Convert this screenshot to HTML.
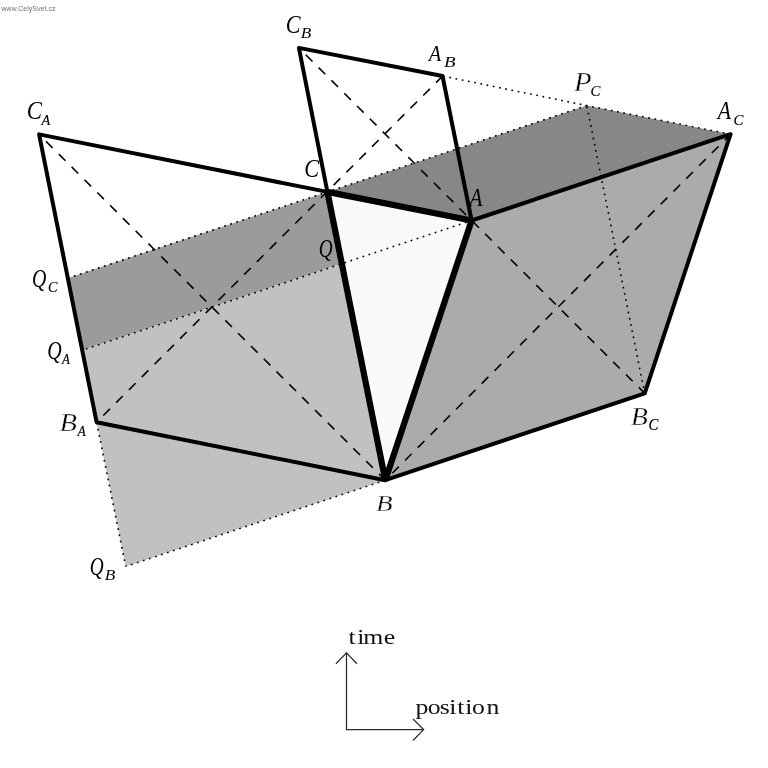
<!DOCTYPE html>
<html><head><meta charset="utf-8"><title>diagram</title>
<style>
html,body{margin:0;padding:0;background:#fff;}
body{width:768px;height:768px;overflow:hidden;position:relative;}
svg{display:block;position:absolute;left:0;top:0;}
.thick{stroke:#000;stroke-width:4.0;stroke-linecap:round;stroke-linejoin:round;fill:none;}
.tri{stroke:#000;stroke-width:6.2;stroke-linejoin:bevel;fill:none;}
.dash{stroke:#000;stroke-width:1.6;stroke-dasharray:9.4 8.7;stroke-dashoffset:8.3;fill:none;}
.dot{stroke:#000;stroke-width:1.6;stroke-dasharray:1.7 4.64;stroke-dashoffset:0.85;fill:none;}
.lab{font-family:"Liberation Serif",serif;font-style:italic;font-size:20px;fill:#000;}
.sub{stroke:#000;stroke-width:0.22px;}
.thin{stroke:#fff;stroke-width:0.28px;}
.ax{stroke:#2a2a2a;stroke-width:1.25;fill:none;}
.axt{font-family:"Liberation Serif",serif;font-size:22px;fill:#111;}
.wm{font-family:"Liberation Sans",sans-serif;font-size:7.1px;fill:#707070;}
</style></head><body>
<svg width="768" height="768" viewBox="0 0 768 768">
<rect width="768" height="768" fill="#fff"/>
<g opacity="0.999">
<polygon points="327.4,191.9 586.8,105.6 730.6,134.2 471.6,220.5" fill="#878787"/>
<polygon points="471.6,220.5 730.6,134.2 644.7,393.3 385.3,480.2" fill="#ababab"/>
<polygon points="68.1,278.1 327.4,191.9 341.8,263.6 82.8,350.1" fill="#9b9b9b"/>
<polygon points="82.8,350.1 341.8,263.6 385.3,480.2 125.7,566.4 96.6,422.2" fill="#c1c1c1"/>
<polygon points="471.6,220.5 385.3,480.2 327.4,191.9" fill="#fafafa"/>
<line x1="586.8" y1="105.6" x2="442.5" y2="76.0" class="dot"/>
<line x1="586.8" y1="105.6" x2="730.6" y2="134.2" class="dot"/>
<line x1="644.7" y1="393.3" x2="586.8" y2="105.6" class="dot"/>
<line x1="327.4" y1="191.9" x2="68.1" y2="278.1" class="dot"/>
<line x1="327.4" y1="191.9" x2="586.8" y2="105.6" class="dot"/>
<line x1="471.6" y1="220.5" x2="82.8" y2="350.1" class="dot"/>
<line x1="125.7" y1="566.4" x2="96.6" y2="422.2" class="dot"/>
<line x1="125.7" y1="566.4" x2="385.3" y2="480.2" class="dot"/>
<line x1="39.1" y1="134.4" x2="385.3" y2="480.2" class="dash"/>
<line x1="96.4" y1="422.4" x2="442.3" y2="76.4" class="dash"/>
<line x1="298.9" y1="47.9" x2="644.7" y2="393.3" class="dash"/>
<line x1="385.3" y1="480.2" x2="730.6" y2="134.2" class="dash"/>
<polyline points="327.4,191.9 39.1,134.4 96.6,422.2 385.3,480.2" class="thick"/>
<polyline points="327.4,191.9 298.9,47.9 442.5,76.0 471.6,220.5" class="thick"/>
<polyline points="471.6,220.5 730.6,134.2 644.7,393.3 385.3,480.2" class="thick"/>
<polygon points="471.6,220.5 385.3,480.2 327.4,191.9" class="tri"/>
<text class="lab" transform="matrix(1.1411 0 0 1.2724 26.84 119.00)">C</text>
<text class="lab sub" transform="matrix(0.7164 0 0 0.7634 41.39 125.10)">A</text>
<text class="lab" transform="matrix(1.1089 0 0 1.2761 285.78 32.64)">C</text>
<text class="lab" transform="matrix(0.8621 0 0 0.7710 300.63 38.40)">B</text>
<text class="lab" transform="matrix(1.0224 0 0 1.1374 428.82 61.10)">A</text>
<text class="lab" transform="matrix(0.9397 0 0 0.7328 444.11 67.20)">B</text>
<text class="lab thin" transform="matrix(1.4449 0 0 1.3359 573.89 90.60)">P</text>
<text class="lab sub" transform="matrix(0.7379 0 0 0.7612 590.44 95.65)">C</text>
<text class="lab" transform="matrix(1.0896 0 0 1.2137 717.70 119.00)">A</text>
<text class="lab sub" transform="matrix(0.7419 0 0 0.7761 733.38 124.74)">C</text>
<text class="lab" transform="matrix(1.1089 0 0 1.2425 304.28 176.65)">C</text>
<text class="lab" transform="matrix(1.0597 0 0 1.2443 469.47 205.60)">A</text>
<text class="lab" transform="matrix(0.9615 0 0 1.2470 318.74 256.71)">Q</text>
<text class="lab" transform="matrix(0.9923 0 0 1.2927 32.01 286.76)">Q</text>
<text class="lab sub" transform="matrix(0.7097 0 0 0.7463 48.12 291.60)">C</text>
<text class="lab" transform="matrix(0.9962 0 0 1.2683 47.15 358.84)">Q</text>
<text class="lab sub" transform="matrix(0.6493 0 0 0.7634 61.91 364.20)">A</text>
<text class="lab thin" transform="matrix(1.4310 0 0 1.3053 59.41 431.20)">B</text>
<text class="lab sub" transform="matrix(0.6828 0 0 0.7634 77.50 436.20)">A</text>
<text class="lab thin" transform="matrix(1.3621 0 0 1.1603 375.93 511.10)">B</text>
<text class="lab thin" transform="matrix(1.4009 0 0 1.2710 630.72 424.75)">B</text>
<text class="lab sub" transform="matrix(0.7419 0 0 0.8433 648.48 430.43)">C</text>
<text class="lab" transform="matrix(0.9615 0 0 1.2927 89.74 575.16)">Q</text>
<text class="lab" transform="matrix(0.8621 0 0 0.7634 104.83 580.20)">B</text>
<polyline class="ax" points="346.5,652.8 346.5,729.6 423.6,729.6"/>
<polyline class="ax" points="335.9,663.8 346.5,652.8 356.9,663.8"/>
<polyline class="ax" points="413,719 423.6,729.6 413,740.5"/>
<text class="axt" transform="matrix(1.17 0 0 1 0 644)" x="297.91 305.40 310.58 328.02" y="0">time</text>
<text class="axt" transform="matrix(1.17 0 0 1 0 714.4)" x="355.07 365.50 375.91 383.93 390.86 397.56 403.41 415.80" y="0">position</text>
<text class="wm" x="1.2" y="11">www.CelySvet.cz</text>
</g>
</svg>
</body></html>
